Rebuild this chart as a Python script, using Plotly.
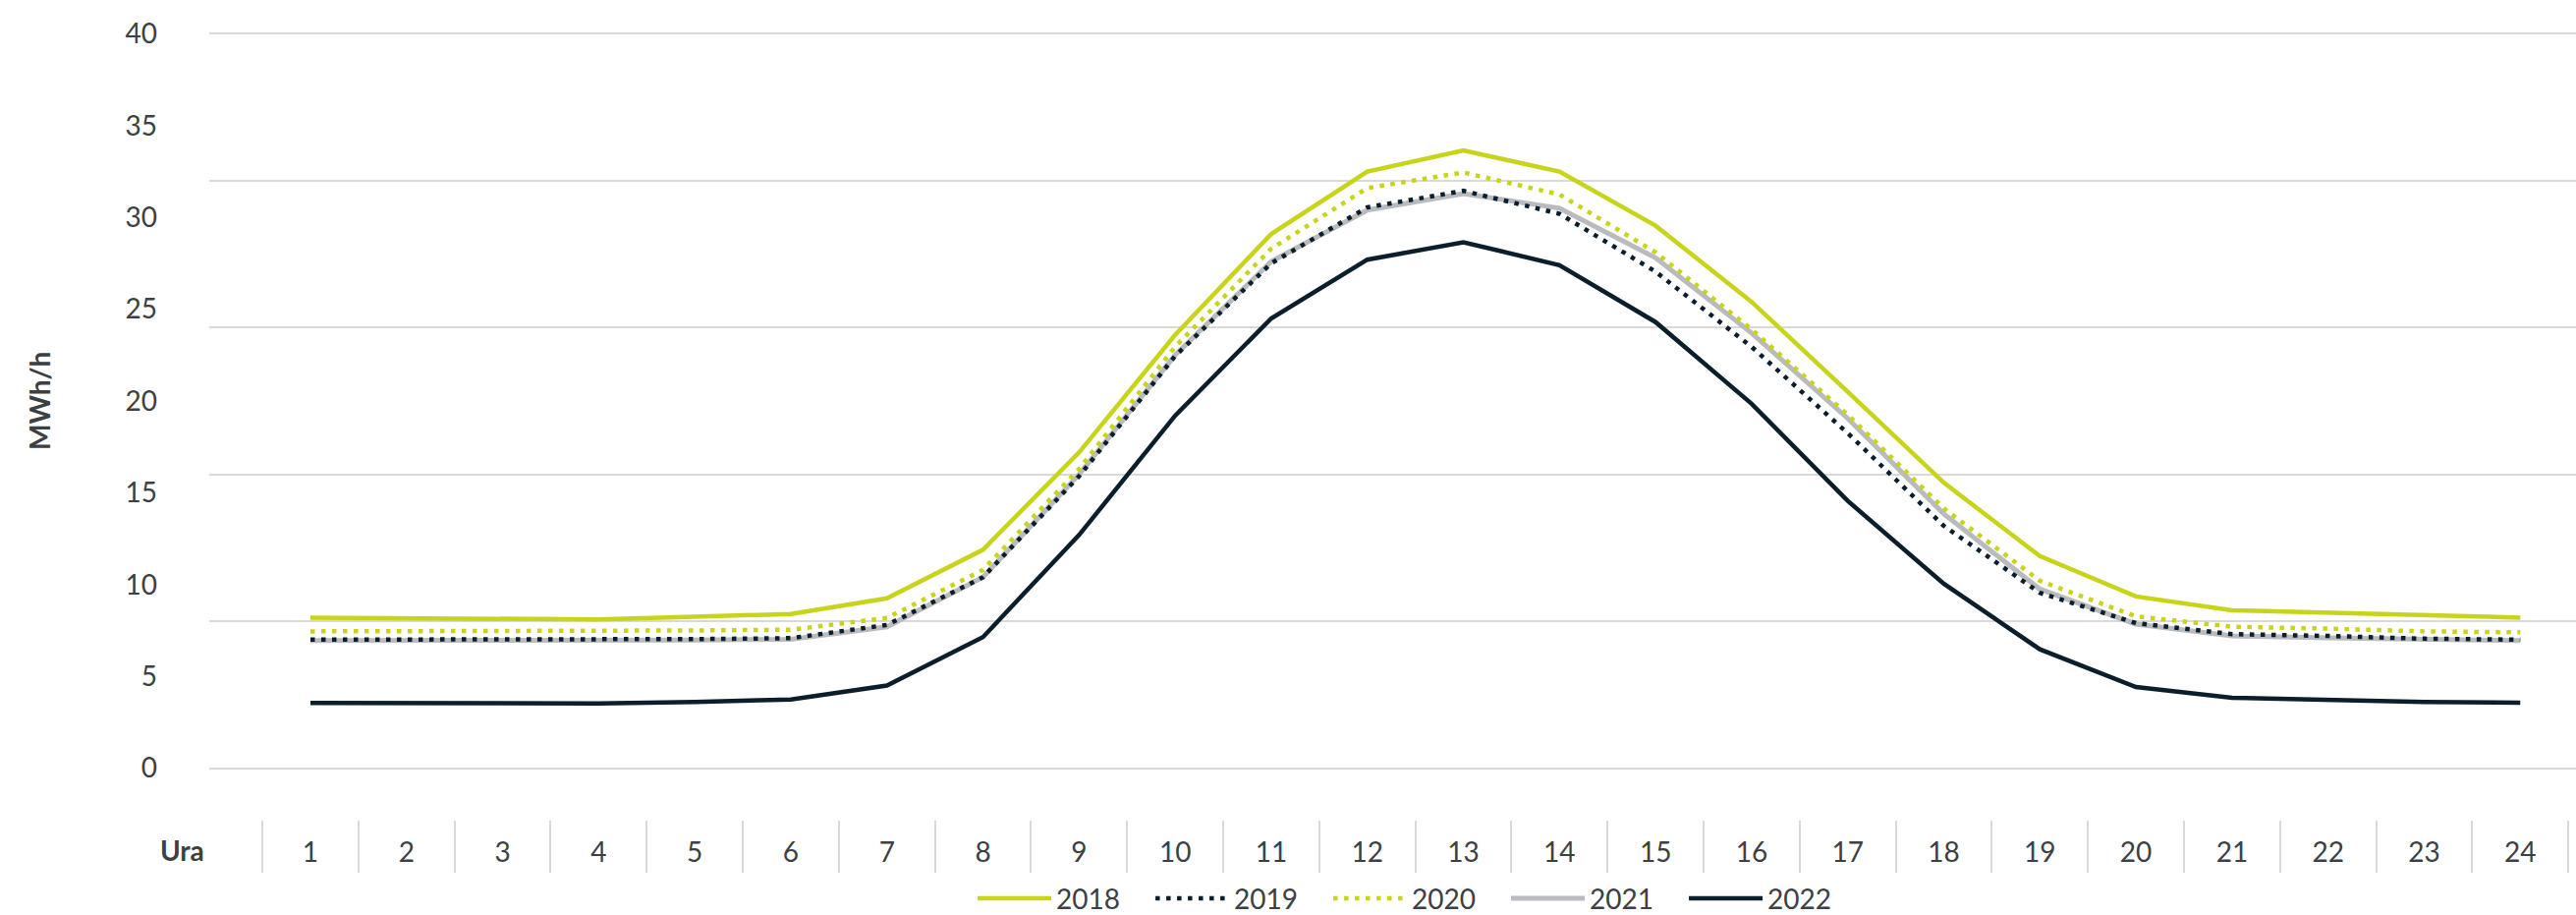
import plotly.graph_objects as go

hours = ["1", "2", "3", "4", "5", "6", "7", "8", "9", "10", "11", "12",
         "13", "14", "15", "16", "17", "18", "19", "20", "21", "22", "23", "24"]

y2018 = [8.2, 8.15, 8.1, 8.1, 8.25, 8.4, 9.25, 11.9, 17.2, 23.6, 29.1, 32.5,
         33.65, 32.5, 29.55, 25.4, 20.5, 15.55, 11.55, 9.35, 8.6, 8.45, 8.3, 8.2]
y2019 = [7.0, 7.0, 7.0, 7.0, 7.03, 7.08, 7.8, 10.4, 15.9, 22.45, 27.5, 30.55,
         31.45, 30.2, 27.05, 22.95, 18.25, 13.2, 9.55, 7.9, 7.3, 7.2, 7.05, 7.0]
y2020 = [7.45, 7.45, 7.45, 7.49, 7.5, 7.54, 8.18, 10.8, 16.3, 22.95, 28.3, 31.6,
         32.45, 31.25, 28.1, 23.9, 19.25, 14.15, 10.2, 8.27, 7.7, 7.6, 7.45, 7.4]
y2021 = [6.95, 6.95, 6.95, 6.95, 6.97, 7.02, 7.7, 10.4, 16.0, 22.5, 27.6, 30.4,
         31.3, 30.5, 27.8, 23.7, 19.05, 13.85, 9.75, 7.85, 7.2, 7.1, 7.0, 6.95]
y2022 = [3.55, 3.55, 3.53, 3.52, 3.6, 3.74, 4.5, 7.14, 12.7, 19.2, 24.5, 27.7,
         28.65, 27.4, 24.3, 19.85, 14.56, 10.05, 6.47, 4.42, 3.83, 3.72, 3.6, 3.56]

label_ticks = [0, 5, 10, 15, 20, 25, 30, 35, 40]
grid_ticks = [0, 8, 16, 24, 32, 40]

LIME = "#c8d41a"
NAVY = "#0b1e2c"
GREY = "#b9bbbe"
TEXT = "#3d4043"
FONT = "Lato"

fig = go.Figure()
# z-order: grey under dotted navy
fig.add_trace(go.Scatter(x=hours, y=y2021, name="2021", mode="lines",
                         line=dict(color=GREY, width=5), legendrank=4))
fig.add_trace(go.Scatter(x=hours, y=y2018, name="2018", mode="lines",
                         line=dict(color=LIME, width=4.5), legendrank=1))
fig.add_trace(go.Scatter(x=hours, y=y2020, name="2020", mode="lines",
                         line=dict(color=LIME, width=4.5, dash="4.5px,6.5px"), legendrank=3))
fig.add_trace(go.Scatter(x=hours, y=y2019, name="2019", mode="lines",
                         line=dict(color=NAVY, width=4.5, dash="4.5px,6.5px"), legendrank=2))
fig.add_trace(go.Scatter(x=hours, y=y2022, name="2022", mode="lines", yaxis="y2",
                         line=dict(color=NAVY, width=4.5), legendrank=5))

yrange = [-5.70, 40.4]

fig.update_layout(
    width=2622, height=931,
    margin=dict(l=213, r=0, t=27, b=43, autoexpand=False),
    paper_bgcolor="white", plot_bgcolor="white",
    font=dict(family=FONT, size=28, color=TEXT),
    showlegend=True,
    legend=dict(orientation="h", xref="container", yref="container",
                x=0.3776, xanchor="left", y=0.018, yanchor="middle",
                font=dict(size=28, color=TEXT), itemwidth=75,
                entrywidth=91, entrywidthmode="pixels",
                traceorder="normal", bgcolor="rgba(0,0,0,0)"),
    xaxis=dict(type="category", categoryarray=hours, categoryorder="array",
               range=[-1.053, 23.58], tickson="boundaries",
               ticks="inside", ticklen=53, tickcolor="#d9d9d9", tickwidth=1.5,
               ticklabelposition="inside", ticklabelstandoff=-45,
               showgrid=False, showline=False,
               zeroline=False, tickfont=dict(size=28, color=TEXT), fixedrange=True),
    yaxis=dict(range=yrange, tickmode="array", tickvals=grid_ticks,
               showticklabels=False, showgrid=True, gridcolor="#d9d9d9",
               gridwidth=1.5, zeroline=False, ticks="", fixedrange=True),
    yaxis2=dict(range=yrange, overlaying="y", side="left", anchor="x",
                tickmode="array", tickvals=label_ticks, showgrid=False,
                zeroline=False, ticks="", ticklabelstandoff=52,
                tickfont=dict(size=28, color=TEXT), fixedrange=True),
    annotations=[
        dict(text="<b>MWh/h</b>", xref="paper", yref="y", x=-0.0718, y=20,
             xanchor="center", yanchor="middle", textangle=-90, showarrow=False,
             font=dict(size=28, color=TEXT, family=FONT)),
        dict(text="<b>Ura</b>", xref="paper", yref="y", x=-0.00125, y=-4.47,
             xanchor="right", yanchor="middle", showarrow=False,
             font=dict(size=28, color=TEXT, family=FONT)),
    ],
)

fig.write_html("out.html", config={"displayModeBar": False},
               post_script="document.body.style.margin='0';document.body.style.overflow='hidden';")
